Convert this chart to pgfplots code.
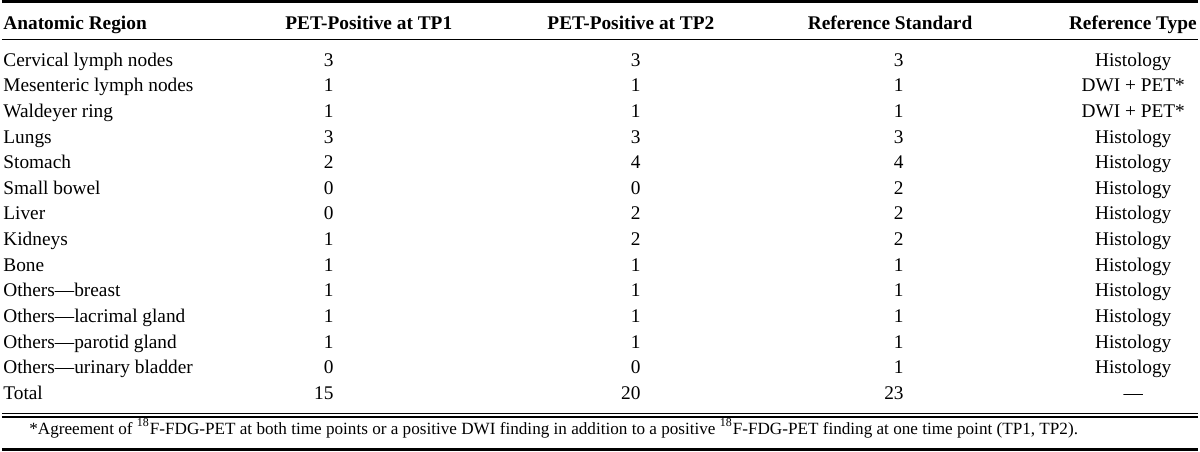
\documentclass[border=0pt]{standalone}
\usepackage{fontspec}
\setmainfont{Liberation Serif}
\usepackage{pgfplots}
\usepackage{pgfplotstable}
\pgfplotsset{compat=1.18}

\pgfplotstableread[col sep=comma]{
y,region,tp1,tp2,ref,type
66.5,Cervical lymph nodes,3,3,3,Histology
92.2,Mesenteric lymph nodes,1,1,1,DWI + PET*
117.9,Waldeyer ring,1,1,1,DWI + PET*
143.6,Lungs,3,3,3,Histology
169.3,Stomach,2,4,4,Histology
195,Small bowel,0,0,2,Histology
220.7,Liver,0,2,2,Histology
246.4,Kidneys,1,2,2,Histology
272.1,Bone,1,1,1,Histology
297.8,Others—breast,1,1,1,Histology
323.5,Others—lacrimal gland,1,1,1,Histology
349.2,Others—parotid gland,1,1,1,Histology
374.9,Others—urinary bladder,0,0,1,Histology
401,Total,15,20,23,—
}\tbl

\begin{document}
\begin{tikzpicture}
\begin{axis}[
  width=600pt, height=226.5pt, scale only axis,
  xmin=0, xmax=1200, ymin=0, ymax=453, y dir=reverse,
  hide axis, clip=false, enlargelimits=false,
  nodes near coords style={font=\fontsize{9.7}{11}\selectfont, inner sep=0pt, text=black},
]
% rules
\addplot[black, line width=1.5pt] coordinates {(0,1.5) (1200,1.5)};
\addplot[black, line width=0.5pt] coordinates {(0,40) (1200,40)};
\addplot[black, line width=0.5pt] coordinates {(0,414.5) (1200,414.5)};
\addplot[black, line width=1.1pt] coordinates {(0,418) (1200,418)};
\addplot[black, line width=2pt] coordinates {(0,451) (1200,451)};
% body
\addplot[draw=none, mark=none, nodes near coords, point meta=explicit symbolic,
  every node near coord/.append style={anchor=base west}] table[x expr=1, y=y, meta=region] {\tbl};
\addplot[draw=none, mark=none, nodes near coords, point meta=explicit symbolic,
  every node near coord/.append style={anchor=base east}] table[x expr=333, y=y, meta=tp1] {\tbl};
\addplot[draw=none, mark=none, nodes near coords, point meta=explicit symbolic,
  every node near coord/.append style={anchor=base east}] table[x expr=641, y=y, meta=tp2] {\tbl};
\addplot[draw=none, mark=none, nodes near coords, point meta=explicit symbolic,
  every node near coord/.append style={anchor=base east}] table[x expr=905, y=y, meta=ref] {\tbl};
\addplot[draw=none, mark=none, nodes near coords, point meta=explicit symbolic,
  every node near coord/.append style={anchor=base}] table[x expr=1135, y=y, meta=type] {\tbl};
% headers
\begin{scope}[every node/.style={font=\fontsize{9.7}{11}\selectfont\bfseries, inner sep=0pt}]
\node[anchor=base west] at (axis cs:1,30) {Anatomic Region};
\node[anchor=base] at (axis cs:368,30) {PET-Positive at TP1};
\node[anchor=base] at (axis cs:631,30) {PET-Positive at TP2};
\node[anchor=base] at (axis cs:891,30) {Reference Standard};
\node[anchor=base east] at (axis cs:1199,30) {Reference Type};
\end{scope}
% footnote
\node[anchor=base west, inner sep=0pt, font=\fontsize{8.6}{10}\selectfont] at (axis cs:27,436)
  {*Agreement of \textsuperscript{18}F-FDG-PET at both time points or a positive DWI finding in addition to a positive \textsuperscript{18}F-FDG-PET finding at one time point (TP1, TP2).};
\end{axis}
\end{tikzpicture}
\end{document}
